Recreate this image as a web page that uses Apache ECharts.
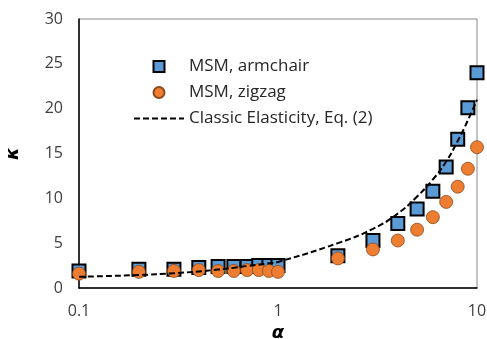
<!DOCTYPE html>
<html>
<head>
<meta charset="utf-8">
<script src="https://cdn.jsdelivr.net/npm/echarts@6/dist/echarts.min.js"></script>
<style>
  html, body { margin: 0; padding: 0; background: #fff; }
  #chart { width: 487px; height: 339px; }
</style>
</head>
<body>
<div id="chart"></div>
<script>
// values
const alpha = [0.1, 0.2, 0.3, 0.4, 0.5, 0.6, 0.7, 0.8, 0.9, 1, 2, 3, 4, 5, 6, 7, 8, 9, 10];
const armchair = [1.9, 2.1, 2.1, 2.3, 2.4, 2.4, 2.4, 2.5, 2.5, 2.5, 3.6, 5.3, 7.2, 8.8, 10.8, 13.5, 16.6, 20.1, 24.0];
const zigzag = [1.6, 1.8, 1.9, 2.0, 1.9, 1.9, 2.0, 2.0, 1.9, 1.8, 3.3, 4.3, 5.3, 6.5, 7.9, 9.6, 11.3, 13.3, 15.7];
const classic = [1.25, 1.45, 1.65, 1.85, 2.05, 2.25, 2.45, 2.6, 2.75, 2.9, 5.0, 6.6, 8.3, 10.2, 12.1, 14.1, 16.4, 18.7, 21.0];
const yTicks = [0, 5, 10, 15, 20, 25, 30];

const names = ['MSM, armchair', 'MSM, zigzag', 'Classic Elasticity, Eq. (2)'];
const pairs = vals => alpha.map((a, i) => [a, vals[i]]);

const chart = echarts.init(document.getElementById('chart'));
const font = 'Open Sans';

const option = {
  animation: false,
  textStyle: { fontFamily: font },
  grid: {
    left: 79, right: 10, top: 19, bottom: 51,
    outerBoundsMode: 'none',
    show: true, borderColor: '#888', borderWidth: 1
  },
  legend: {
    orient: 'vertical',
    left: 128, top: 53,
    itemWidth: 50, itemHeight: 11, itemGap: 9,
    textStyle: { fontFamily: font, fontSize: 17, color: '#262626' },
    data: [
      { name: names[0], icon: 'path://M0 0H10V10H0Z' },
      { name: names[1], icon: 'circle' },
      { name: names[2], itemStyle: { opacity: 0 } }
    ]
  },
  xAxis: {
    type: 'log', logBase: 10, min: 0.1, max: 10,
    name: 'α', nameLocation: 'middle', nameGap: 34,
    nameTextStyle: { fontSize: 18, fontWeight: 'bold', fontStyle: 'italic', color: '#000', fontFamily: 'DejaVu Sans' },
    axisLine: { lineStyle: { color: '#000', width: 1.5 } },
    axisTick: { show: false },
    splitLine: { show: false },
    axisLabel: {
      color: '#404040', fontSize: 16, margin: 15,
      formatter: v => (v < 1 ? v.toFixed(1) : String(Math.round(v)))
    }
  },
  yAxis: {
    type: 'value', min: yTicks[0], max: yTicks[yTicks.length - 1], interval: 5,
    name: 'κ', nameLocation: 'middle', nameGap: 57, nameRotate: 90,
    nameTextStyle: { fontSize: 18, fontWeight: 'bold', fontStyle: 'italic', color: '#000', fontFamily: 'DejaVu Sans' },
    axisLine: { show: true, lineStyle: { color: '#000', width: 1.5 } },
    axisTick: { show: false },
    splitLine: { show: false },
    axisLabel: { color: '#404040', fontSize: 16, margin: 16 }
  },
  series: [
    {
      name: names[0], type: 'scatter', data: pairs(armchair),
      symbol: 'rect', symbolSize: 13,
      itemStyle: { color: '#5B9BD5', borderColor: '#000', borderWidth: 2, opacity: 1 }
    },
    {
      name: names[1], type: 'scatter', data: pairs(zigzag),
      symbol: 'circle', symbolSize: 13,
      itemStyle: { color: '#ED7D31', borderColor: '#8a4a1c', borderWidth: 0.8, opacity: 1 }
    },
    {
      name: names[2], type: 'line', data: pairs(classic),
      smooth: true, symbol: 'none',
      itemStyle: { color: '#000' },
      lineStyle: { color: '#000', width: 2, type: [6, 3] }
    }
  ]
};

chart.setOption(option);
</script>
</body>
</html>
